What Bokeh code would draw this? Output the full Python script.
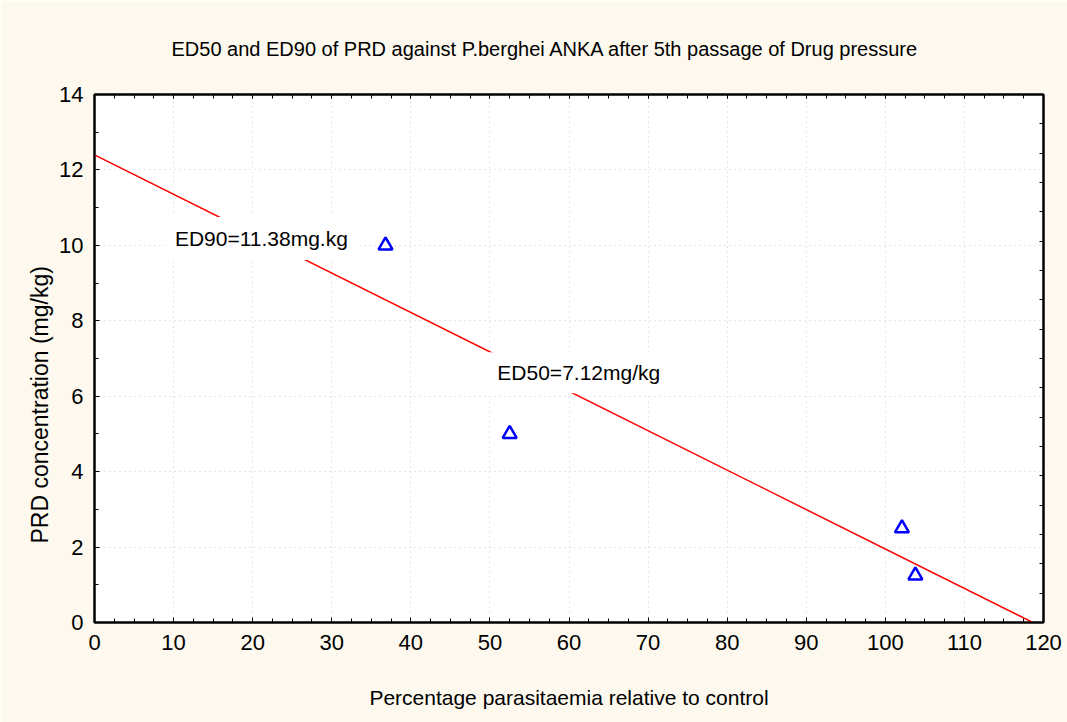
import numpy as np
from bokeh.plotting import figure
from bokeh.models import LinearAxis, FixedTicker, Label, Range1d, Title
from bokeh.embed import file_html
from bokeh.resources import INLINE

# Parasitaemia (% of control) observed at each PRD dose (mg/kg)
parasitaemia = [36.8, 52.5, 102.1, 103.8]
prd_dose = [10.0, 5.0, 2.5, 1.25]

x_ticks = list(range(0, 121, 10))
y_ticks = list(range(0, 15, 2))

title_text = "ED50 and ED90 of PRD against P.berghei ANKA after 5th passage of Drug pressure"
x_label = "Percentage parasitaemia relative to control"
y_label = "PRD concentration (mg/kg)"
ed90_text = "ED90=11.38mg.kg"
ed50_text = "ED50=7.12mg/kg"

FONT = "Liberation Sans"
CREAM = "#fdf9ee"

# least-squares line through the observations, drawn down to the x axis
slope, intercept = np.polyfit(parasitaemia, prd_dose, 1)
fit_x = [0.0, -intercept / slope]
fit_y = [intercept, 0.0]

p = figure(
    width=1067, height=722,
    x_range=Range1d(0, 120), y_range=Range1d(0, 14),
    output_backend="svg", toolbar_location=None,
    min_border_left=94, min_border_right=24,
    min_border_top=94, min_border_bottom=100,
    background_fill_color="white", border_fill_color=CREAM,
    outline_line_color="black", outline_line_width=2,
)

p.title.text = title_text
p.title.align = "left"
p.title.offset = 77
p.title.standoff = 70
p.title.text_font = FONT
p.title.text_font_size = "20px"
p.title.text_font_style = "normal"
p.title.text_color = "black"

# bottom / left axes
for ax in (p.xaxis[0], p.yaxis[0]):
    ax.axis_line_color = "black"
    ax.axis_line_width = 2
    ax.major_tick_in = 5
    ax.major_tick_out = 0
    ax.minor_tick_in = 4
    ax.minor_tick_out = 0
    ax.major_tick_line_color = "black"
    ax.minor_tick_line_color = "black"
    ax.major_label_text_font = FONT
    ax.major_label_text_font_size = "22px"
    ax.major_label_text_color = "black"

p.xaxis[0].ticker = FixedTicker(ticks=x_ticks, minor_ticks=list(np.arange(0, 120.01, 2.5)))
p.yaxis[0].ticker = FixedTicker(ticks=y_ticks, minor_ticks=list(range(0, 15)))
p.xaxis[0].major_label_standoff = 12
p.yaxis[0].major_label_standoff = 11

p.xaxis[0].axis_label = x_label
p.xaxis[0].axis_label_text_font = FONT
p.xaxis[0].axis_label_text_font_size = "21px"
p.xaxis[0].axis_label_text_font_style = "normal"
p.xaxis[0].axis_label_text_color = "black"
p.xaxis[0].axis_label_standoff = 33

# unlabeled tick axes on top and right
top_axis = LinearAxis(ticker=FixedTicker(ticks=x_ticks, minor_ticks=list(np.arange(0, 120.01, 2.5))))
right_axis = LinearAxis(ticker=FixedTicker(ticks=list(np.linspace(0, 14, 19)), minor_ticks=[]))
for ax in (top_axis, right_axis):
    ax.axis_line_color = "black"
    ax.axis_line_width = 2
    ax.major_tick_in = 4
    ax.major_tick_out = 0
    ax.minor_tick_in = 4
    ax.minor_tick_out = 0
    ax.major_label_text_color = None
    ax.major_label_standoff = 0
p.add_layout(top_axis, "above")
p.add_layout(right_axis, "right")

# vertical axis title, starting a little above the frame bottom
p.add_layout(Title(
    text=y_label, align="left", offset=79, standoff=8,
    text_font=FONT, text_font_size="23px", text_font_style="normal",
    text_color="black",
), "left")

# dotted grid
for g in (p.xgrid[0], p.ygrid[0]):
    g.grid_line_color = "#cfcfcf"
    g.grid_line_dash = "1 4"
    g.grid_line_width = 1
p.xgrid[0].ticker = FixedTicker(ticks=x_ticks)
p.ygrid[0].ticker = FixedTicker(ticks=y_ticks)

# fitted line
p.line(fit_x, fit_y, line_color="red", line_width=1.5)

# observations
p.scatter(parasitaemia, prd_dose, marker="triangle", size=14,
          fill_color=None, line_color="blue", line_width=2.5)

# ED annotations with white boxes over the line
for x, y, txt, pad in ((8.9, 10.18, ed90_text, 10), (49.8, 6.62, ed50_text, 9)):
    p.add_layout(Label(
        x=x, y=y, text=txt, text_baseline="middle", text_align="left",
        text_font=FONT, text_font_size="21px", text_color="black",
        background_fill_color="white", padding=pad,
    ))

open("out.html", "w").write(file_html(p, INLINE))
